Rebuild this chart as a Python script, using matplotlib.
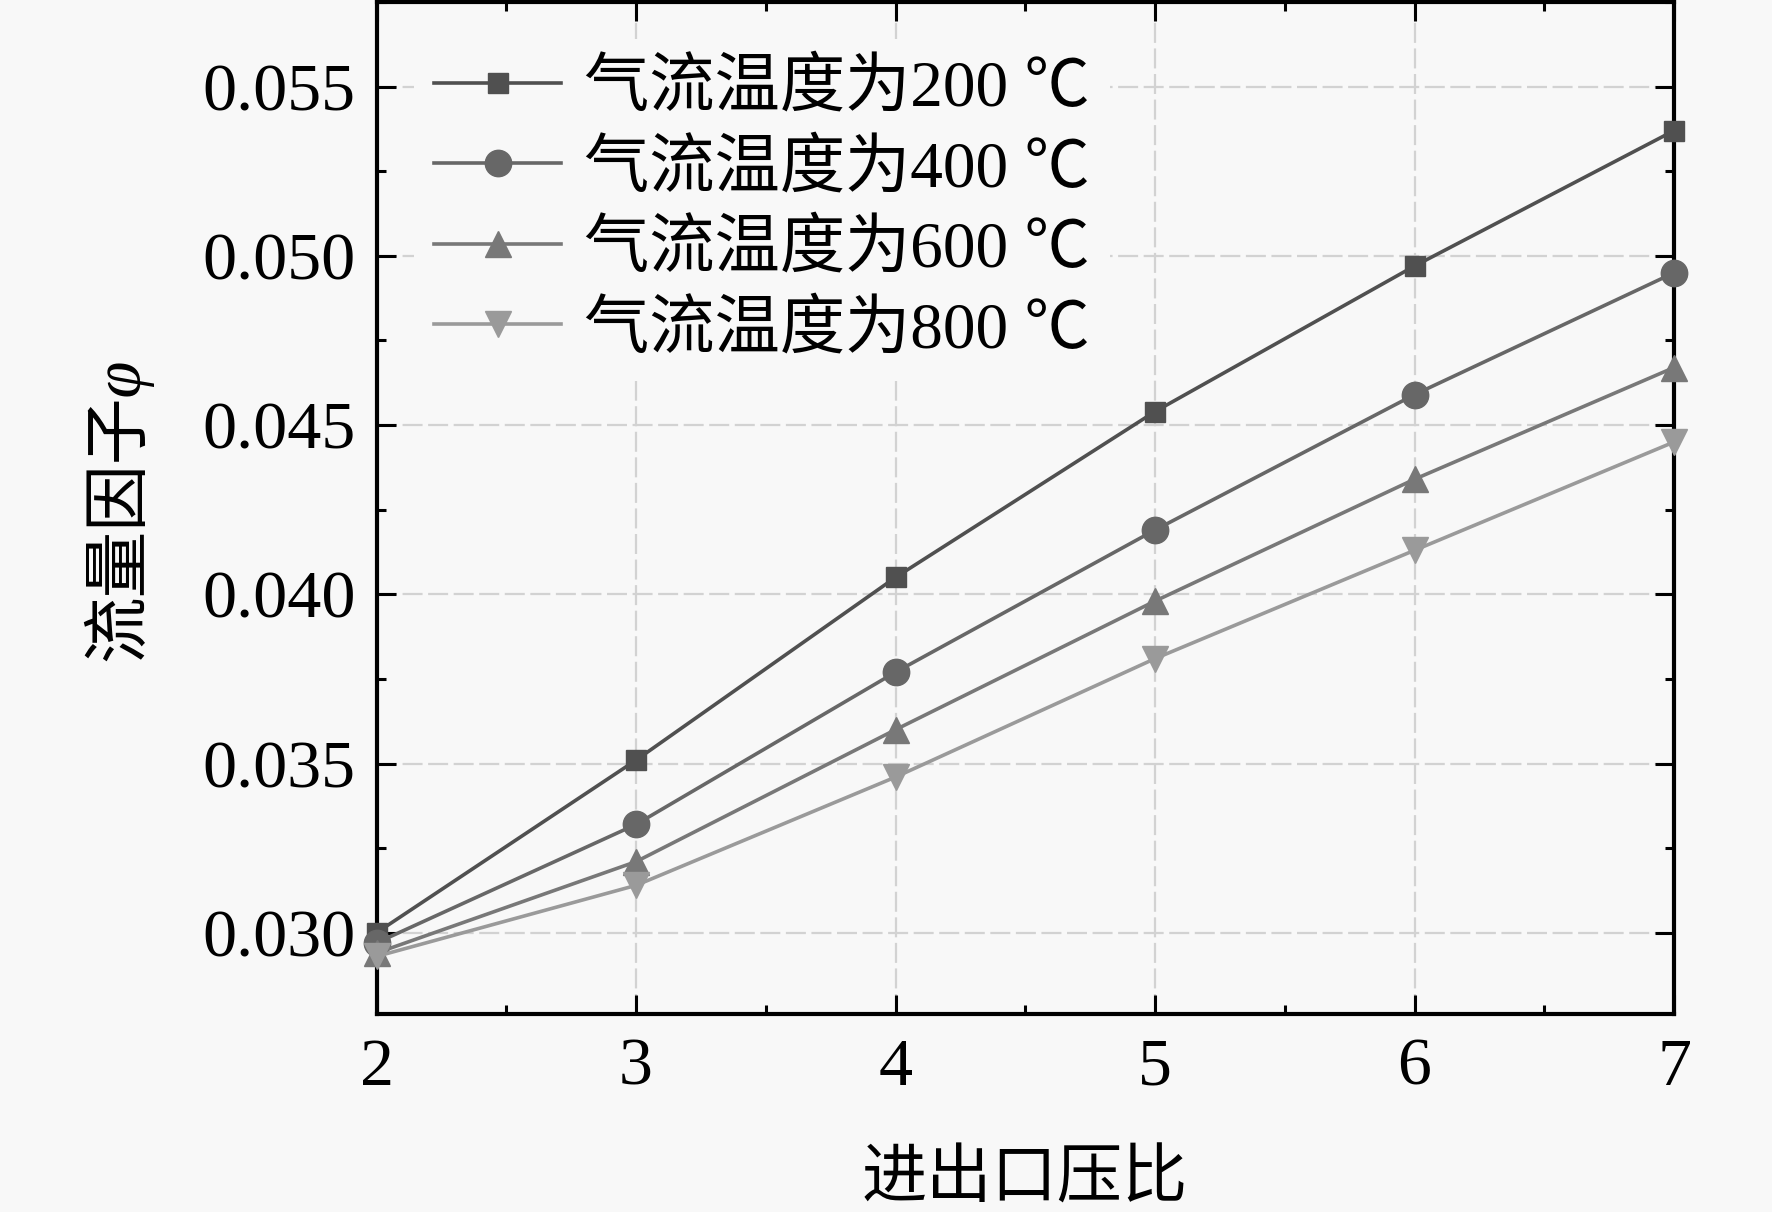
import numpy as np
import matplotlib
matplotlib.use("Agg")
import matplotlib.pyplot as plt
from matplotlib.ticker import MultipleLocator, AutoMinorLocator, FormatStrFormatter

plt.rcParams['font.family'] = ['Liberation Serif', 'Noto Sans CJK SC', 'DejaVu Sans']
plt.rcParams['axes.unicode_minus'] = False

# pressure ratio and flow factor for each gas temperature
pressure_ratio = [2, 3, 4, 5, 6, 7]
phi_200 = [0.0300, 0.0351, 0.0405, 0.0454, 0.0497, 0.0537]
phi_400 = [0.0297, 0.0332, 0.0377, 0.0419, 0.0459, 0.0495]
phi_600 = [0.0294, 0.0321, 0.0360, 0.0398, 0.0434, 0.0467]
phi_800 = [0.0293, 0.0314, 0.0346, 0.0381, 0.0413, 0.0445]
labels = ['气流温度为200 ℃', '气流温度为400 ℃', '气流温度为600 ℃', '气流温度为800 ℃']

bg = '#f8f8f8'
series = [
    (phi_200, 's', 15, '#505050'),
    (phi_400, 'o', 19, '#676767'),
    (phi_600, '^', 19, '#787878'),
    (phi_800, 'v', 19, '#9a9a9a'),
]

fig = plt.figure(figsize=(17.72, 12.12), dpi=100, facecolor=bg)
ax = fig.add_axes([0.2125, 0.1634, 0.7322, 0.8349], facecolor=bg)

for (vals, mk, ms, c), lab in zip(series, labels):
    ax.plot(pressure_ratio, vals, marker=mk, markersize=ms, color=c, lw=2.6,
            label=lab, clip_on=False, zorder=3)

ax.set_xlim(2, 7)
ax.set_ylim(0.0276, 0.0575)
ax.xaxis.set_major_locator(MultipleLocator(1))
ax.xaxis.set_minor_locator(AutoMinorLocator(2))
ax.yaxis.set_major_locator(MultipleLocator(0.005))
ax.yaxis.set_minor_locator(AutoMinorLocator(2))
ax.yaxis.set_major_formatter(FormatStrFormatter('%.3f'))

ax.grid(True, which='major', color='#d2d2d2', lw=1.6, linestyle=(0, (9, 2.5)), zorder=0)
ax.tick_params(which='both', direction='in', top=True, right=True, width=2.2,
               labelsize=49)
ax.tick_params(which='major', length=13.5)
ax.tick_params(which='minor', length=6.5)
ax.tick_params(axis='x', pad=17)
ax.tick_params(axis='y', pad=15)
for sp in ax.spines.values():
    sp.set_linewidth(3)

leg = ax.legend(loc='center left', bbox_to_anchor=(0.2339, 0.8267),
                bbox_transform=fig.transFigure, fontsize=47, frameon=True,
                handlelength=1.95, handletextpad=0.35, labelspacing=0.3,
                borderpad=0.3, borderaxespad=0)
leg.get_frame().set_facecolor(bg)
leg.get_frame().set_edgecolor('none')
leg.get_frame().set_alpha(1)

fig.text(0.5784, 0.0254, '进出口压比', fontsize=47, ha='center', va='center')
fig.text(0.066, 0.5796, '流量因子φ', fontsize=48, rotation=90, ha='center',
         va='center', fontstyle='italic')

fig.savefig('out.png', dpi=100, facecolor=bg)
